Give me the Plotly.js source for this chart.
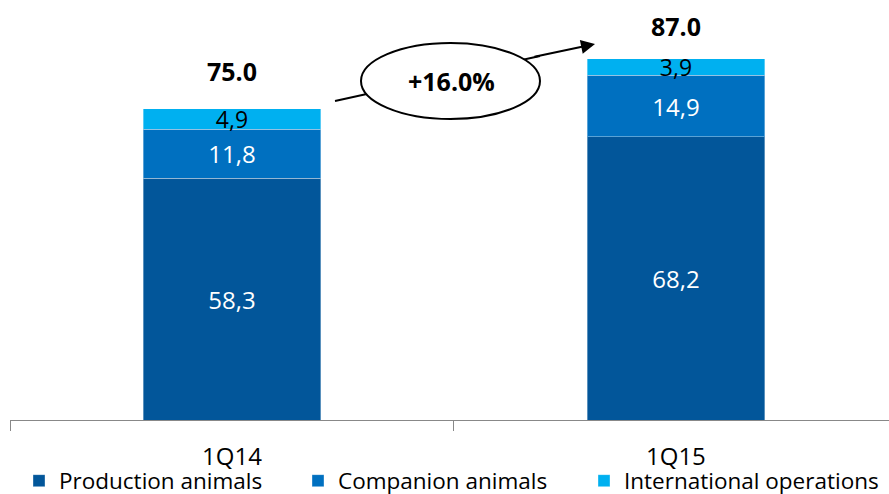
<!DOCTYPE html>
<html>
<head>
<meta charset="utf-8">
<script src="https://cdn.plot.ly/plotly-3.0.1.min.js"></script>
<style>html,body{margin:0;padding:0;background:#fff;}#chart{width:889px;height:494px;}</style>
</head>
<body>
<div id="chart"></div>
<script>
const categories = ["1Q14", "1Q15"];
const production = [58.3, 68.2];
const companion = [11.8, 14.9];
const international = [4.9, 3.9];
const totals = [75.0, 87.0];
const growthLabel = "+16.0%";
const seriesNames = ["Production animals", "Companion animals", "International operations"];

const FONT = "'Open Sans', sans-serif";
const colors = {prod: "#02569A", comp: "#0070C0", intl: "#00B0F0"};

function seg(name, vals, color, txtColor, size, legendId) {
  return {
    type: "bar", name: name, x: categories, y: vals, legend: legendId,
    marker: {color: color, line: {color: "rgba(255,255,255,0.35)", width: 1}},
    width: 0.4,
    texttemplate: "%{y:.1f}", textposition: "inside", insidetextanchor: "middle",
    constraintext: "none", textangle: 0,
    textfont: {family: FONT, size: size, color: txtColor},
    hoverinfo: "skip"
  };
}

const data = [
  seg(seriesNames[0], production, colors.prod, "#ffffff", 24, "legend"),
  seg(seriesNames[1], companion, colors.comp, "#ffffff", 24, "legend2"),
  seg(seriesNames[2], international, colors.intl, "#000000", 23, "legend3")
];

// pixel helpers for decorations (plot area: x 10..889, y 0..420)
const px = v => (v - 10) / 879;
const py = v => (420 - v) / 420;

const totalShift = [19, 14];
const annotations = categories.map((c, i) => ({
  x: c, y: totals[i], xref: "x", yref: "y",
  text: "<b>" + totals[i].toFixed(1) + "</b>",
  showarrow: false, yanchor: "bottom", yshift: totalShift[i],
  font: {family: FONT, size: 25, color: "#000"}
}));
annotations.push({
  x: px(451), y: py(81), xref: "paper", yref: "paper",
  xanchor: "center", yanchor: "middle",
  text: "<b>" + growthLabel + "</b>", showarrow: false,
  font: {family: FONT, size: 25, color: "#000"}
});
annotations.push({
  x: px(595), y: py(44), xref: "paper", yref: "paper",
  ax: -62, ay: 13, text: "", showarrow: true,
  arrowhead: 2, arrowsize: 1.4, arrowwidth: 2, arrowcolor: "#000"
});

function leg(xPix) {
  return {orientation: "h", x: px(xPix), xanchor: "left", y: py(481), yanchor: "middle",
          bgcolor: "rgba(0,0,0,0)",
          font: {family: FONT, size: 22.5, color: "#000"}};
}

const layout = {
  width: 889, height: 494,
  margin: {l: 10, r: 0, t: 0, b: 74, autoexpand: false},
  paper_bgcolor: "#fff", plot_bgcolor: "#fff",
  barmode: "stack",
  separators: ",.",
  showlegend: true,
  legend: leg(19),
  legend2: leg(298),
  legend3: leg(584),
  xaxis: {
    type: "category", range: [-0.5, 1.48],
    showline: true, linecolor: "#888", linewidth: 1,
    ticks: "outside", tickson: "boundaries", ticklen: 10, tickcolor: "#888",
    ticklabelstandoff: 15,
    tickfont: {family: FONT, size: 24, color: "#000"},
    showgrid: false, zeroline: false, fixedrange: true
  },
  yaxis: {range: [0, 101.2], visible: false, fixedrange: true},
  shapes: [
    {type: "line", xref: "paper", yref: "paper", x0: px(335), y0: py(101), x1: px(540), y1: py(56),
     line: {color: "#000", width: 2}},
    {type: "circle", xref: "paper", yref: "paper", x0: px(361), x1: px(540), y0: py(119), y1: py(43),
     fillcolor: "#fff", line: {color: "#000", width: 2}}
  ],
  annotations: annotations
};

Plotly.newPlot("chart", data, layout, {staticPlot: true, displayModeBar: false});
</script>
</body>
</html>
